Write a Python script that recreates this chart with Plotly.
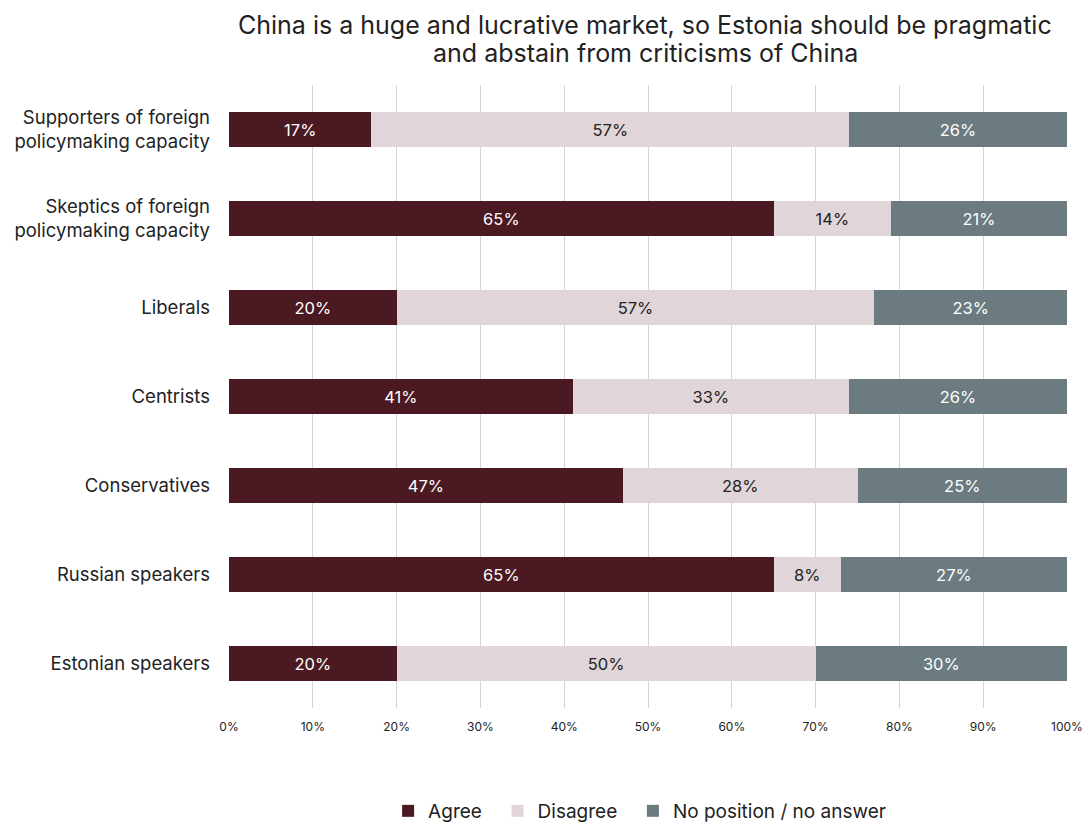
import plotly.graph_objects as go

categories = [
    "Supporters of foreign<br>policymaking capacity",
    "Skeptics of foreign<br>policymaking capacity",
    "Liberals",
    "Centrists",
    "Conservatives",
    "Russian speakers",
    "Estonian speakers",
]
agree = [17, 65, 20, 41, 47, 65, 20]
disagree = [57, 14, 57, 33, 28, 8, 50]
no_answer = [26, 21, 23, 26, 25, 27, 30]

title_lines = [
    "China is a huge and lucrative market, so Estonia should be pragmatic",
    "and abstain from criticisms of China",
]

# legend entries get a little trailing room so the items sit further apart
pad = "\u00a0" * 2
series = [
    ("Agree", pad, agree, "#4b1921", "white"),
    ("Disagree", pad, disagree, "#e0d5d8", "#222222"),
    ("No position / no answer", "", no_answer, "#6b7b80", "white"),
]

fig = go.Figure()
for name, tail, vals, color, txtcolor in series:
    fig.add_trace(go.Bar(
        name=name + tail,
        y=categories,
        x=vals,
        orientation="h",
        marker=dict(color=color, line=dict(width=0)),
        width=0.4,
        text=[f"{v}%" for v in vals],
        textposition="inside",
        insidetextanchor="middle",
        textangle=0,
        textfont=dict(family="Inter", size=16.5, color=txtcolor),
    ))

# two-line heading, one annotation per line for tight line spacing
for line, ypos in zip(title_lines, [1.0963, 1.0514]):
    fig.add_annotation(
        text=line, xref="paper", yref="paper",
        x=0.497, y=ypos, xanchor="center", yanchor="middle",
        showarrow=False,
        font=dict(family="Inter", size=25, color="#222222"),
    )

fig.update_layout(
    barmode="stack",
    width=1089,
    height=822,
    margin=dict(l=229, r=22, t=85, b=114, autoexpand=False),
    paper_bgcolor="white",
    plot_bgcolor="white",
    font=dict(family="Inter", color="#222222"),
    xaxis=dict(
        range=[0, 100],
        tickvals=list(range(0, 101, 10)),
        ticktext=[f"{v}%" for v in range(0, 101, 10)],
        showgrid=True,
        gridcolor="#d4d4d4",
        gridwidth=1,
        zeroline=False,
        showline=False,
        automargin=False,
        tickfont=dict(family="Inter", size=12, color="#222222"),
        ticklabelstandoff=10,
    ),
    yaxis=dict(
        categoryorder="array",
        categoryarray=categories[::-1],
        autorange=False,
        range=[-0.5, 6.5],
        showgrid=False,
        zeroline=False,
        showline=False,
        automargin=False,
        tickfont=dict(family="Inter", size=18.5, color="#222222"),
        ticklabelstandoff=18,
    ),
    legend=dict(
        orientation="h",
        x=0.49, xref="paper", xanchor="center",
        y=0.0134, yref="container", yanchor="middle",
        font=dict(family="Inter", size=19, color="#222222"),
        itemwidth=30,
        traceorder="normal",
    ),
    uniformtext=dict(mode="show", minsize=8),
)

fig.write_html("out.html")
